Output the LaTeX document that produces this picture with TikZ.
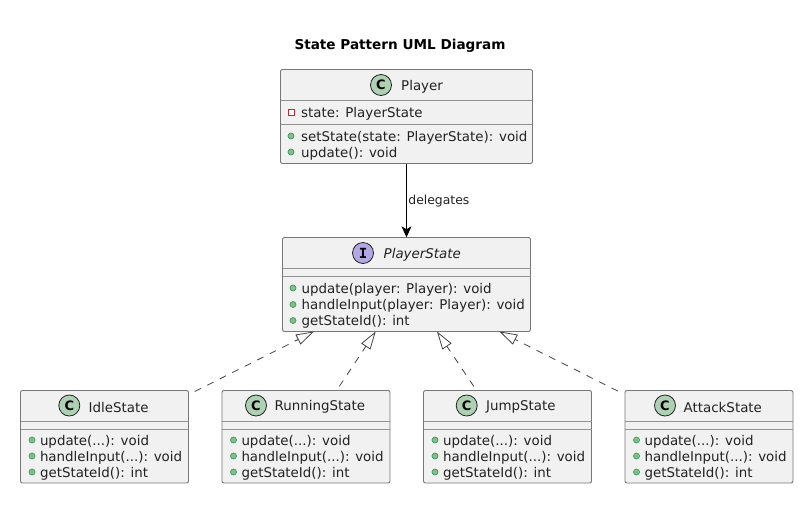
\documentclass[tikz,border=0pt]{standalone}
\usepackage{fontspec}
\setmainfont{DejaVu Sans}
\newfontfamily\badgemono{DejaVu Sans Mono}
\usetikzlibrary{arrows.meta}
\definecolor{boxfill}{HTML}{F1F1F1}
\definecolor{boxline}{HTML}{777777}
\definecolor{inktext}{HTML}{222222}
\definecolor{classbadge}{HTML}{ADD1B2}
\definecolor{ifacebadge}{HTML}{B4A7E5}
\definecolor{pubfill}{HTML}{84BE84}
\definecolor{publine}{HTML}{3E9A66}
\definecolor{privline}{HTML}{C82930}
\tikzset{
  x=1pt,y=-1pt,
  classbox/.style={draw=boxline,fill=boxfill,rounded corners=2pt,line width=0.9pt,inner sep=0pt,outer sep=0pt,anchor=north west},
  divider/.style={draw=boxline!80,line width=0.8pt},
  badge/.style={circle,draw=inktext,line width=0.8pt,minimum size=21pt,inner sep=0pt,text=black},
  headtext/.style={font=\fontsize{13.4}{15}\selectfont,text=inktext,anchor=west,inner sep=0pt},
  member/.style={font=\fontsize{13.4}{15}\selectfont,text=inktext,anchor=west,inner sep=0pt},
  pubdot/.style={circle,draw=publine,fill=pubfill,line width=0.7pt,minimum size=6pt,inner sep=0pt},
  privbox/.style={rectangle,draw=privline,fill=white,line width=0.8pt,minimum size=6pt,inner sep=0pt},
  realize/.style={draw=inktext!85,line width=0.8pt,dash pattern=on 7pt off 7pt,-{Triangle[open,length=18pt,width=11pt,fill=white]}},
  uses/.style={draw=black,line width=0.8pt,-{Stealth[length=11pt,width=10pt,inset=3pt]}},
}
\newcommand{\memberline}[4]{% name, x, y, text
  \node[pubdot] (#1d) at (#2+11.5,#3-1.5) {};
  \node[member] (#1t) at (#2+19.3,#3) {#4};
}
\newcommand{\stateclass}[4]{% name, left x, badge x, head x
  \node[classbox,minimum width=168pt,minimum height=92.5pt] (#1) at (#2,390.5) {};
  \draw[divider] (#1.north west |- 0,421.5) -- (#1.north east |- 0,421.5);
  \draw[divider] (#1.north west |- 0,429) -- (#1.north east |- 0,429);
  \node[badge,fill=classbadge] (#1b) at (#3,405.5) {\fontsize{13}{15}\bfseries\selectfont C};
  \node[headtext] (#1h) at (#4,407) {#1};
  \memberline{#1a}{#2}{441.5}{update(...): void}
  \memberline{#1c}{#2}{457.5}{handleInput(...): void}
  \memberline{#1e}{#2}{473.5}{getStateId(): int}
}
\begin{document}
\begin{tikzpicture}
\useasboundingbox (0,0) rectangle (803,528);
\node[font=\fontsize{13.6}{15}\bfseries\selectfont,text=black,inner sep=0pt] (title) at (400,45.5) {State Pattern UML Diagram};
% Player
\node[classbox,minimum width=252pt,minimum height=94pt] (player) at (280.5,69.5) {};
\draw[divider] (player.north west |- 0,100) -- (player.north east |- 0,100);
\draw[divider] (player.north west |- 0,124) -- (player.north east |- 0,124);
\node[badge,fill=classbadge] (playerb) at (381,85) {\fontsize{13}{15}\bfseries\selectfont C};
\node[headtext] (playerh) at (401,86.5) {Player};
\node[privbox] (pstated) at (291,112) {};
\node[member] (pstatet) at (301,113.5) {state: PlayerState};
\node[pubdot] (psetd) at (291,136) {};
\node[member] (psett) at (301,137.5) {setState(state: PlayerState): void};
\node[pubdot] (pupd) at (291,152) {};
\node[member] (pupt) at (301,153.5) {update(): void};
% PlayerState
\node[classbox,minimum width=248pt,minimum height=94pt] (ps) at (282.5,237.5) {};
\draw[divider] (ps.north west |- 0,268) -- (ps.north east |- 0,268);
\draw[divider] (ps.north west |- 0,276) -- (ps.north east |- 0,276);
\node[badge,fill=ifacebadge] (psb) at (363,253) {\badgemono\fontsize{14}{15}\bfseries\selectfont I};
\node[headtext] (psh) at (383.5,254.5) {\itshape PlayerState};
\node[pubdot] (psad) at (293,288) {};
\node[member] (psat) at (301.5,289.5) {update(player: Player): void};
\node[pubdot] (psbd) at (293,304.5) {};
\node[member] (psbt) at (301.5,305.5) {handleInput(player: Player): void};
\node[pubdot] (pscd) at (293,320.5) {};
\node[member] (psct) at (301.5,321.5) {getStateId(): int};
% States
\stateclass{IdleState}{20.5}{69.3}{88.5}
\stateclass{RunningState}{222}{256}{274.5}
\stateclass{JumpState}{423.5}{466.7}{486}
\stateclass{AttackState}{625}{665}{683.5}
% Attachment points
\coordinate (psone) at (314,331.5);
\coordinate (pstwo) at (375.7,331.5);
\coordinate (psthree) at (437,331.5);
\coordinate (psfour) at (499.3,331.5);
\coordinate (pstop) at (406.5,237.3);
\coordinate (playerbot) at (406.5,163.5);
% Connectors
\draw[uses] (playerbot) -- (pstop) node[pos=0.5,right=1.5pt,yshift=-1pt,font=\fontsize{12.4}{14}\selectfont,text=inktext,inner sep=0pt] (dlabel) {delegates};
\draw[realize,shorten <=7pt] (IdleState) -- (psone);
\draw[realize,shorten <=5pt] (RunningState) -- (pstwo);
\draw[realize,shorten <=5pt] (JumpState) -- (psthree);
\draw[realize,shorten <=8pt] (AttackState) -- (psfour);
\end{tikzpicture}
\end{document}
